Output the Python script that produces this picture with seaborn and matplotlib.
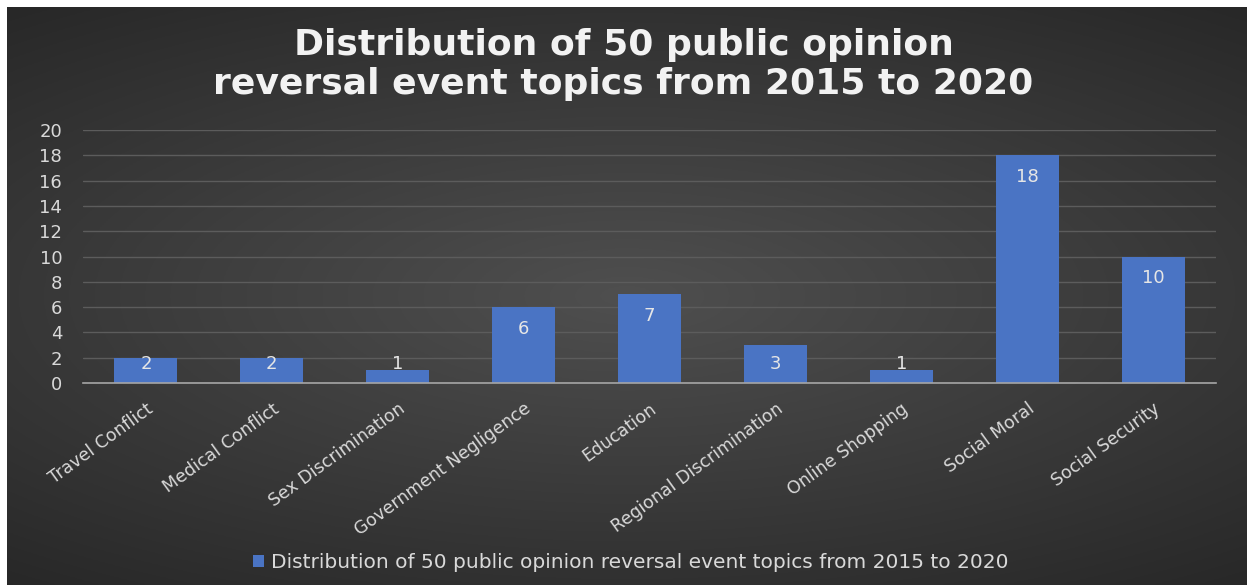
import numpy as np
import matplotlib
matplotlib.use('Agg')
import matplotlib.pyplot as plt
import seaborn as sns

########## DATA ##########
topics = ['Travel Conflict', 'Medical Conflict', 'Sex Discrimination', 'Government Negligence',
          'Education', 'Regional Discrimination', 'Online Shopping', 'Social Moral', 'Social Security']
counts = [2, 2, 1, 6, 7, 3, 1, 18, 10]
yticks = list(range(0, 21, 2))
title = 'Distribution of 50 public opinion\nreversal event topics from 2015 to 2020'
series_name = 'Distribution of 50 public opinion reversal event topics from 2015 to 2020'
##########################

sns.set_style('dark')
plt.rcParams['font.family'] = ['DejaVu Sans']
txt = '#d9d9d9'
bar_col = '#4a74c4'

fig = plt.figure(figsize=(12.47, 5.85), dpi=100, facecolor='white')

# dark radial-gradient background (white strip at top/left as in the screenshot)
bg = fig.add_axes([7 / 1247, 0, 1 - 7 / 1247, 1 - 7 / 585])
yy, xx = np.mgrid[-1:1:300j, -1:1:600j]
r = np.sqrt((xx * 0.8) ** 2 + (yy * 1.0) ** 2)
grad = np.clip(0.31 - 0.12 * r, 0, 1)
bg.imshow(np.dstack([grad] * 3), aspect='auto', extent=[0, 1, 0, 1])
bg.set_axis_off()

ax = fig.add_axes([83 / 1247, 1 - 383 / 585, (1216 - 83) / 1247, (383 - 130) / 585])
ax.patch.set_alpha(0)
sns.barplot(x=topics, y=counts, color=bar_col, width=0.5, label=series_name,
            saturation=1, edgecolor='none', linewidth=0, ax=ax)
if ax.get_legend() is not None:
    ax.get_legend().remove()
ax.set_xlim(-0.5, len(topics) - 0.5)
ax.set_ylim(0, 20)
ax.set_yticks(yticks)
ax.yaxis.grid(True, color='#5c5c5c', linewidth=1)
ax.xaxis.grid(False)
ax.set_axisbelow(True)
for s in ['top', 'right', 'left']:
    ax.spines[s].set_visible(False)
ax.spines['bottom'].set_color('#a6a6a6')
ax.spines['bottom'].set_linewidth(1.2)
ax.tick_params(axis='y', colors=txt, labelsize=13, length=0, pad=15)
ax.tick_params(axis='x', colors=txt, labelsize=12.5, length=0, pad=12)
ax.set_xticks(range(len(topics)))
ax.set_xticklabels(topics, rotation=36, ha='right', va='top', rotation_mode='anchor')
ax.set_xlabel('')
ax.set_ylabel('')

# value labels inside the bar end
for i, v in enumerate(counts):
    ax.text(i, max(v - 1.7, 1.5), str(v), ha='center', va='center',
            color='#e6e6e6', fontsize=13)

fig.suptitle(title, x=0.5, y=0.952, color='#f2f2f2', fontsize=26,
             fontweight='bold', linespacing=1.2)

fig.legend(loc='center', bbox_to_anchor=(0.506, 1 - 563 / 585), frameon=False,
           fontsize=14.5, labelcolor=txt, handlelength=0.55, handleheight=0.55,
           handletextpad=0.35)

fig.savefig('out.png', dpi=100, facecolor='white')
